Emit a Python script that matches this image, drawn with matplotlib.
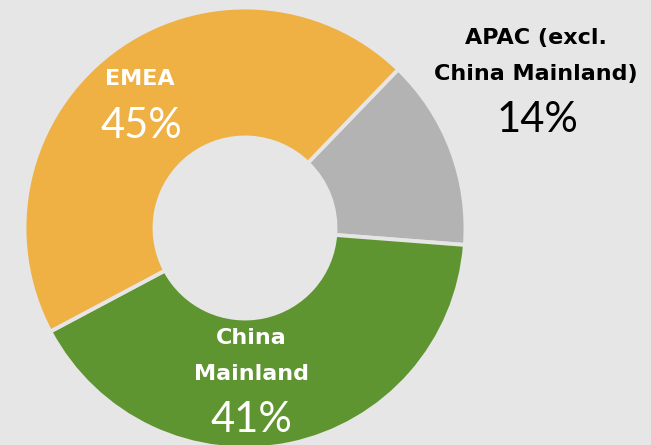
import matplotlib.pyplot as plt

regions = ["APAC (excl.\nChina Mainland)", "China\nMainland", "EMEA"]
shares = [14, 41, 45]
colors = ["#b3b3b3", "#5f9530", "#efb044"]
bg = "#e6e6e6"

fig = plt.figure(figsize=(6.51, 4.45), dpi=100, facecolor=bg)
ax = fig.add_axes([0, 0, 1, 1])
ax.set_facecolor(bg)

# pie drawn in pixel-like coordinates (y measured from bottom)
ax.pie(shares, colors=colors, startangle=46, counterclock=False,
       center=(245, 217), radius=220.5,
       wedgeprops=dict(width=130, edgecolor=bg, linewidth=2.8))
ax.set_xlim(0, 651)
ax.set_ylim(0, 445)
ax.set_aspect('equal')
ax.axis('off')

lab = dict(fontsize=16, fontweight='bold', family='DejaVu Sans',
           ha='center', va='center', linespacing=2.05)
pct = dict(fontsize=30, family=['Lato', 'DejaVu Sans'], ha='center', va='center')

ax.text(140, 445 - 79, regions[2], color='white', **lab)
ax.text(141, 445 - 126, f"{shares[2]}%", color='white', **pct)

ax.text(251, 445 - 356, regions[1], color='white', **lab)
ax.text(251, 445 - 420, f"{shares[1]}%", color='white', **pct)

ax.text(536, 445 - 56, regions[0], color='black', **lab)
ax.text(537, 445 - 120, f"{shares[0]}%", color='black', **pct)

plt.savefig('out.png', dpi=100, facecolor=bg)
